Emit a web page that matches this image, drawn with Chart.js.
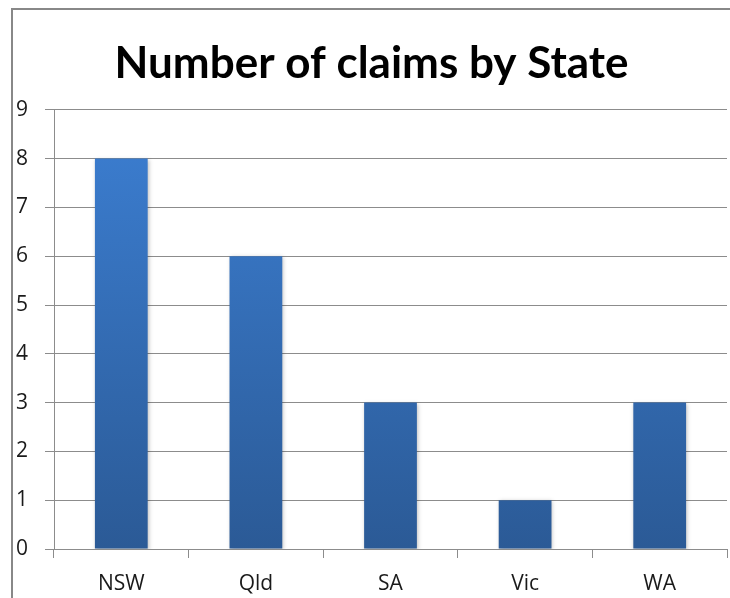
<!DOCTYPE html>
<html>
<head>
<meta charset="utf-8">
<script src="https://cdn.jsdelivr.net/npm/chart.js@4/dist/chart.umd.min.js"></script>
<style>
  html, body { margin: 0; padding: 0; background: #fff; }
  #wrap { width: 730px; height: 598px; }
</style>
</head>
<body>
<div id="wrap"><canvas id="chart" width="730" height="598"></canvas></div>
<script>
const states = ["NSW", "Qld", "SA", "Vic", "WA"];
const claims = [8, 6, 3, 1, 3];
const yTicks = [0, 1, 2, 3, 4, 5, 6, 7, 8, 9];

const gridGrey = "#8c8c8c";

// outer frame of the chart object (cut off on the right and bottom)
const framePlugin = {
  id: "frame",
  beforeDraw(chart) {
    const ctx = chart.ctx;
    ctx.save();
    ctx.fillStyle = "#fff";
    ctx.fillRect(0, 0, chart.width, chart.height);
    ctx.strokeStyle = "#888";
    ctx.lineWidth = 2;
    ctx.strokeRect(12, 9, chart.width + 20, chart.height + 20);
    ctx.restore();
  }
};

// soft shadow behind the bars
const shadowPlugin = {
  id: "barShadow",
  beforeDatasetsDraw(chart) {
    const ctx = chart.ctx;
    ctx.save();
    ctx.shadowColor = "rgba(0,0,0,0.25)";
    ctx.shadowBlur = 4;
    ctx.shadowOffsetX = 1;
    ctx.shadowOffsetY = 1;
  },
  afterDatasetsDraw(chart) {
    chart.ctx.restore();
  }
};

function barGradient(context) {
  const chart = context.chart;
  const area = chart.chartArea;
  if (!area) return "#3a75c0";
  const y = chart.scales.y;
  const g = chart.ctx.createLinearGradient(0, y.getPixelForValue(9), 0, y.getPixelForValue(0));
  g.addColorStop(0, "#3c7fd3");
  g.addColorStop(1, "#2b5a96");
  return g;
}

new Chart(document.getElementById("chart"), {
  type: "bar",
  data: {
    labels: states,
    datasets: [{
      data: claims,
      backgroundColor: barGradient,
      borderWidth: 0,
      barPercentage: 0.8,
      categoryPercentage: 0.49
    }]
  },
  options: {
    responsive: false,
    animation: false,
    layout: { padding: { left: 16, right: 3, top: 0, bottom: 0 } },
    plugins: {
      legend: { display: false },
      tooltip: { enabled: false },
      title: {
        display: true,
        text: "Number of claims by State",
        color: "#000",
        font: { family: "Lato", size: 44, weight: "bold" },
        padding: { top: 37, bottom: 20 }
      }
    },
    scales: {
      x: {
        grid: {
          drawOnChartArea: false,
          drawTicks: true,
          tickLength: 9,
          color: gridGrey,
          offset: true
        },
        border: { color: gridGrey, width: 1 },
        ticks: {
          color: "#1a1a1a",
          font: { family: "Open Sans", size: 21 },
          padding: 13
        },
        afterFit(scale) { scale.height = 49; }
      },
      y: {
        min: 0,
        max: 9,
        afterBuildTicks(scale) { scale.ticks = yTicks.map(v => ({ value: v })); },
        grid: { color: gridGrey, tickLength: 9, lineWidth: 1 },
        border: { color: gridGrey, width: 1 },
        ticks: {
          color: "#1a1a1a",
          font: { family: "Open Sans", size: 21 },
          crossAlign: "far",
          padding: 4
        },
        afterFit(scale) { scale.width = 38; }
      }
    }
  },
  plugins: [framePlugin, shadowPlugin]
});
</script>
</body>
</html>
